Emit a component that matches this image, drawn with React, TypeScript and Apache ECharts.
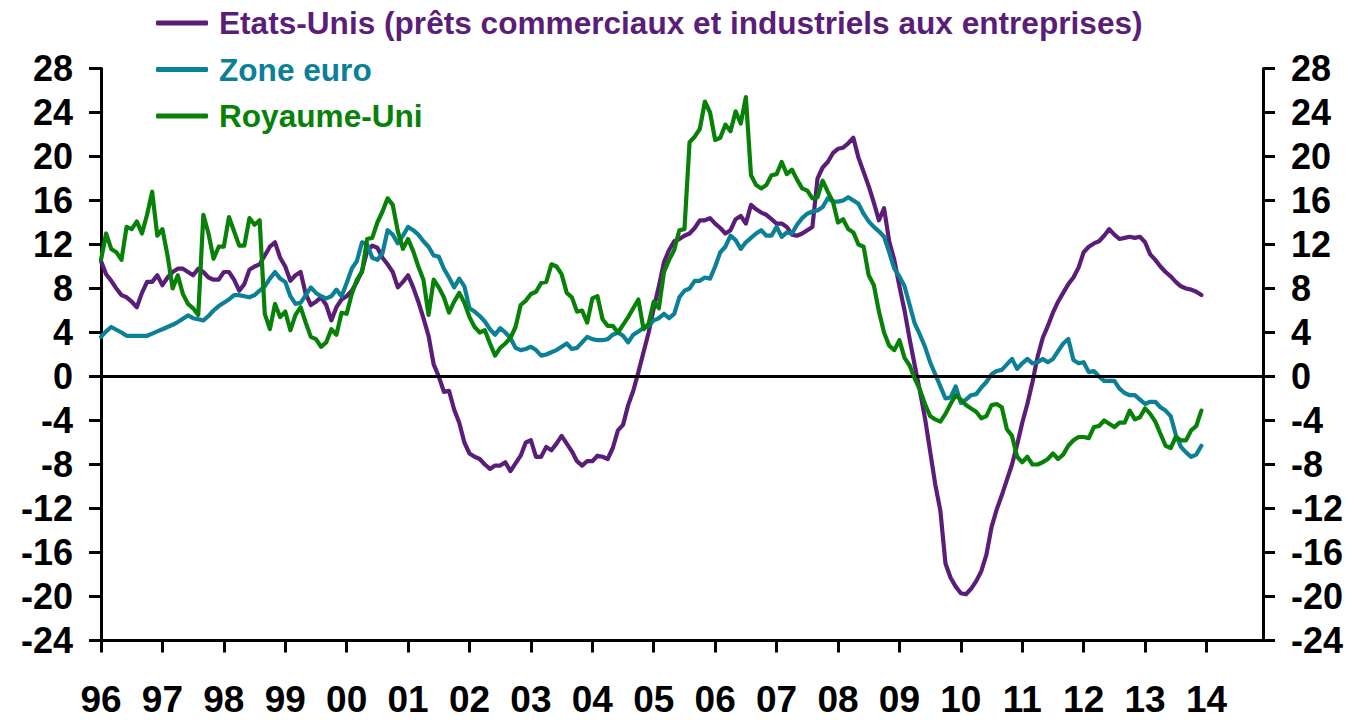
import React, { useEffect, useRef } from "react";
import * as echarts from "echarts";

// Monthly data, January 1996 to December 2013 (% y/y)
const START_YEAR = 1996;

const usLoans = [
  10.5, 9.3, 8.7, 8.0, 7.4, 7.2, 6.8, 6.3, 7.6, 8.6, 8.6, 9.2,
  8.3, 9.0, 9.5, 9.8, 9.8, 9.5, 9.2, 9.8, 9.5, 9.0, 8.8, 8.8,
  9.5, 9.5, 8.8, 7.8, 8.4, 9.7, 10.0, 10.2, 11.0, 11.8, 12.2, 10.8,
  10.0, 8.7, 9.2, 9.5, 7.5, 6.5, 6.8, 7.2, 6.5, 5.1, 6.3, 7.0,
  7.3, 7.8, 8.6, 9.6, 11.4, 11.9, 11.7, 10.8, 10.2, 9.5, 8.1, 8.6,
  9.2, 8.1, 6.8, 5.3, 3.7, 1.1, 0.0, -1.4, -1.3, -3.0, -4.2, -6.0,
  -7.0, -7.3, -7.5, -8.0, -8.4, -8.1, -8.1, -7.8, -8.6, -7.9, -7.2, -6.0,
  -5.8, -7.3, -7.3, -6.4, -6.7, -6.1, -5.4, -6.1, -6.8, -7.7, -8.1, -7.7,
  -7.7, -7.2, -7.3, -7.5, -6.5, -4.9, -4.4, -2.6, -1.3, 0.4, 2.2, 4.0,
  6.2, 8.2, 10.4, 11.5, 12.3, 12.5, 12.8, 13.0, 13.5, 14.2, 14.2, 14.4,
  13.9, 13.5, 13.0, 13.3, 14.3, 14.6, 13.9, 15.6, 15.2, 14.9, 14.7, 14.3,
  13.9, 13.9, 13.6, 12.9, 12.8, 13.0, 13.3, 13.6, 18.0, 19.0, 19.5, 20.3,
  20.7, 20.8, 21.2, 21.7, 19.9, 18.6, 17.3, 15.8, 14.2, 15.3, 12.3, 10.6,
  8.2, 6.0, 3.4, 1.0, -1.3, -3.8, -6.8, -9.8, -12.2, -17.0, -18.3, -19.1,
  -19.7, -19.8, -19.3, -18.6, -17.7, -16.2, -13.7, -12.1, -10.8, -9.4, -8.0, -6.2,
  -4.2, -2.5, -0.5, 1.8, 3.5, 4.6, 5.8, 6.8, 7.6, 8.4, 9.0, 9.9,
  11.3, 11.8, 12.1, 12.3, 12.8, 13.4, 12.9, 12.5, 12.6, 12.7, 12.6, 12.7,
  12.2, 11.1, 10.6, 10.0, 9.5, 9.1, 8.6, 8.2, 8.0, 7.9, 7.7, 7.4,
];

const euroArea = [
  3.6, 4.1, 4.5, 4.25, 4.0, 3.7, 3.7, 3.7, 3.7, 3.7, 3.9, 4.1,
  4.3, 4.5, 4.7, 4.95, 5.25, 5.55, 5.3, 5.2, 5.1, 5.5, 6.0, 6.4,
  6.7, 7.0, 7.4, 7.4, 7.3, 7.2, 7.4, 7.8, 8.2, 8.9, 9.5, 8.9,
  8.6, 7.3, 6.6, 6.7, 7.4, 8.1, 7.6, 7.3, 7.1, 7.3, 7.9, 7.3,
  8.5, 9.8, 10.5, 12.2, 12.0, 10.8, 10.6, 11.2, 13.3, 12.9, 12.1, 12.8,
  13.6, 13.3, 12.9, 12.3, 11.8, 11.0, 10.9, 9.8, 9.0, 8.1, 8.9, 8.2,
  6.2, 5.9, 5.5, 5.0, 4.3, 3.8, 4.4, 4.0, 3.5, 2.6, 2.4, 2.5,
  2.7, 2.4, 1.9, 2.0, 2.2, 2.4, 2.7, 3.0, 2.5, 2.6, 3.1, 3.6,
  3.4, 3.3, 3.3, 3.4, 3.8, 4.0, 3.7, 3.1, 3.8, 4.1, 4.4, 4.6,
  5.1, 5.3, 5.7, 5.3, 5.7, 7.2, 7.8, 8.0, 8.7, 8.7, 9.0, 8.9,
  10.0, 11.3, 11.8, 12.8, 12.4, 11.6, 12.2, 12.6, 13.0, 13.3, 12.8, 12.8,
  13.6, 12.7, 13.1, 13.0, 13.8, 14.4, 14.8, 15.0, 15.1, 15.4, 16.2, 15.9,
  15.9, 16.0, 16.3, 16.0, 15.7, 14.8, 14.1, 13.6, 13.2, 12.7, 11.3, 9.8,
  9.1, 8.2, 6.5, 4.8, 3.8, 2.7, 1.3, 0.2, -0.9, -2.0, -1.9, -0.9,
  -2.4, -2.1, -1.7, -1.6, -1.0, -0.5, 0.2, 0.5, 0.6, 1.1, 1.6, 0.7,
  1.2, 1.6, 1.2, 1.3, 1.6, 1.3, 1.6, 2.3, 3.0, 3.4, 1.5, 1.2,
  1.3, 0.4, 0.5, 0.0, -0.4, -0.4, -0.4, -1.1, -1.5, -1.7, -1.7, -2.1,
  -2.5, -2.3, -2.3, -2.8, -3.1, -3.6, -5.3, -6.4, -6.9, -7.3, -7.1, -6.3,
];

const ukLoans = [
  10.6, 13.0, 11.6, 11.3, 10.6, 13.6, 13.4, 14.1, 13.0, 14.7, 16.8, 12.8,
  13.4, 11.0, 8.0, 9.2, 7.5, 6.6, 6.2, 5.6, 14.7, 13.0, 10.7, 11.8,
  11.8, 14.5, 13.2, 11.9, 11.9, 14.4, 13.8, 14.2, 5.7, 4.3, 6.6, 5.4,
  5.9, 4.2, 5.6, 6.3, 4.9, 3.6, 3.4, 2.7, 3.1, 4.3, 3.8, 5.8,
  5.7, 7.5, 8.8, 9.5, 12.5, 12.6, 14.0, 15.0, 16.2, 15.6, 13.2, 11.6,
  12.5, 11.4, 10.0, 8.8, 5.6, 8.8, 8.1, 7.2, 5.8, 6.8, 7.6, 6.7,
  5.4, 4.5, 4.0, 4.2, 3.0, 1.9, 2.6, 3.0, 3.5, 4.5, 6.5, 6.9,
  7.5, 7.7, 8.5, 8.6, 10.2, 10.0, 9.3, 7.6, 7.2, 5.9, 6.0, 4.9,
  7.1, 7.3, 5.2, 4.6, 4.6, 4.0, 4.7, 5.4, 6.2, 7.0, 4.3, 4.8,
  6.8, 6.2, 9.5, 10.6, 11.5, 13.3, 13.4, 21.3, 21.8, 22.5, 25.0, 24.0,
  21.5, 21.7, 22.9, 22.3, 24.1, 23.0, 25.4, 18.3, 17.4, 17.1, 17.4, 18.3,
  18.4, 19.5, 18.4, 18.8, 17.9, 17.1, 16.9, 16.2, 16.3, 17.8, 16.8, 15.9,
  14.0, 14.3, 13.4, 13.1, 12.0, 11.8, 9.2, 8.3, 5.9, 4.0, 2.8, 2.4,
  3.3, 1.7, 1.0, -0.2, -1.2, -2.5, -3.6, -3.9, -4.1, -3.4, -2.5, -1.7,
  -2.1, -2.6, -2.9, -3.2, -3.8, -3.6, -2.6, -2.5, -2.8, -4.8, -5.4, -7.3,
  -7.8, -7.3, -8.0, -8.0, -7.8, -7.5, -7.0, -7.5, -7.1, -6.3, -5.8, -5.5,
  -5.5, -5.6, -4.6, -4.5, -4.0, -4.3, -4.6, -4.2, -4.2, -3.1, -3.9, -3.7,
  -2.9, -3.4, -4.1, -5.2, -6.3, -6.5, -5.5, -5.8, -5.8, -4.9, -4.5, -3.1,
];

const yearTicks = [
  1996, 1997, 1998, 1999, 2000, 2001, 2002, 2003, 2004, 2005,
  2006, 2007, 2008, 2009, 2010, 2011, 2012, 2013, 2014,
];

const seriesNames = [
  "Etats-Unis (prêts commerciaux et industriels aux entreprises)",
  "Zone euro",
  "Royaume-Uni",
];
const seriesColors = ["#5B1E78", "#0B8096", "#078107"];

const toPoints = (values: number[]) =>
  values.map((v, i) => [START_YEAR + i / 12, v]);

const FONT = "'Liberation Sans', Arial, sans-serif";

export default function App() {
  const ref = useRef<HTMLDivElement>(null);

  useEffect(() => {
    if (!ref.current) return;
    const chart = echarts.init(ref.current, null, { renderer: "svg" });
    const axisLabelStyle = {
      color: "#000",
      fontSize: 36,
      fontWeight: "bold" as const,
      fontFamily: FONT,
    };
    const yAxisCommon = {
      type: "value" as const,
      min: -24,
      max: 28,
      interval: 4,
      splitLine: { show: false },
      axisLine: { show: true, lineStyle: { color: "#000", width: 3 } },
      axisTick: { show: true, length: 12, lineStyle: { color: "#000", width: 3 } },
      axisLabel: { ...axisLabelStyle, margin: 28 },
    };
    const datasets = [usLoans, euroArea, ukLoans];
    chart.setOption({
      animation: false,
      backgroundColor: "#fff",
      grid: { left: 101, right: 92, top: 68.5, bottom: 79.5, containLabel: false },
      legend: {
        orient: "vertical",
        left: 151,
        top: 2,
        itemWidth: 52,
        itemHeight: 5,
        itemGap: 14.5,
        icon: "roundRect",
        textStyle: {
          fontSize: 31.6,
          fontWeight: "bold",
          fontFamily: FONT,
          lineHeight: 32,
          padding: [0, 0, 0, 6],
        },
        data: seriesNames.map((n, i) => ({
          name: n,
          textStyle: { color: seriesColors[i] },
          itemStyle: { color: seriesColors[i] },
        })),
      },
      xAxis: {
        type: "value",
        min: 1996,
        max: 2014.92,
        interval: 1,
        splitLine: { show: false },
        axisLine: { show: true, onZero: false, lineStyle: { color: "#000", width: 3 } },
        axisTick: {
          show: true,
          length: 12,
          customValues: yearTicks,
          lineStyle: { color: "#000", width: 3 },
        },
        axisLabel: {
          ...axisLabelStyle,
          fontSize: 37,
          margin: 40,
          customValues: yearTicks,
          formatter: (v: number) => String(Math.round(v) % 100).padStart(2, "0"),
        },
      },
      yAxis: [
        { ...yAxisCommon, position: "left" },
        { ...yAxisCommon, position: "right" },
      ],
      series: datasets.map((d, i) => ({
        name: seriesNames[i],
        type: "line",
        data: toPoints(d),
        showSymbol: false,
        symbol: "none",
        smooth: false,
        lineStyle: { color: seriesColors[i], width: 4.2, join: "round", cap: "round" },
        itemStyle: { color: seriesColors[i] },
        z: 3 + i,
        markLine:
          i === 0
            ? {
                silent: true,
                symbol: ["none", "none"],
                label: { show: false },
                lineStyle: { color: "#000", width: 3, type: "solid" },
                data: [{ yAxis: 0 }],
              }
            : undefined,
      })),
    });
    return () => chart.dispose();
  }, []);

  return (
    <div
      ref={ref}
      style={{ position: "fixed", left: 0, top: 0, width: 1355, height: 720, background: "#fff" }}
    />
  );
}
